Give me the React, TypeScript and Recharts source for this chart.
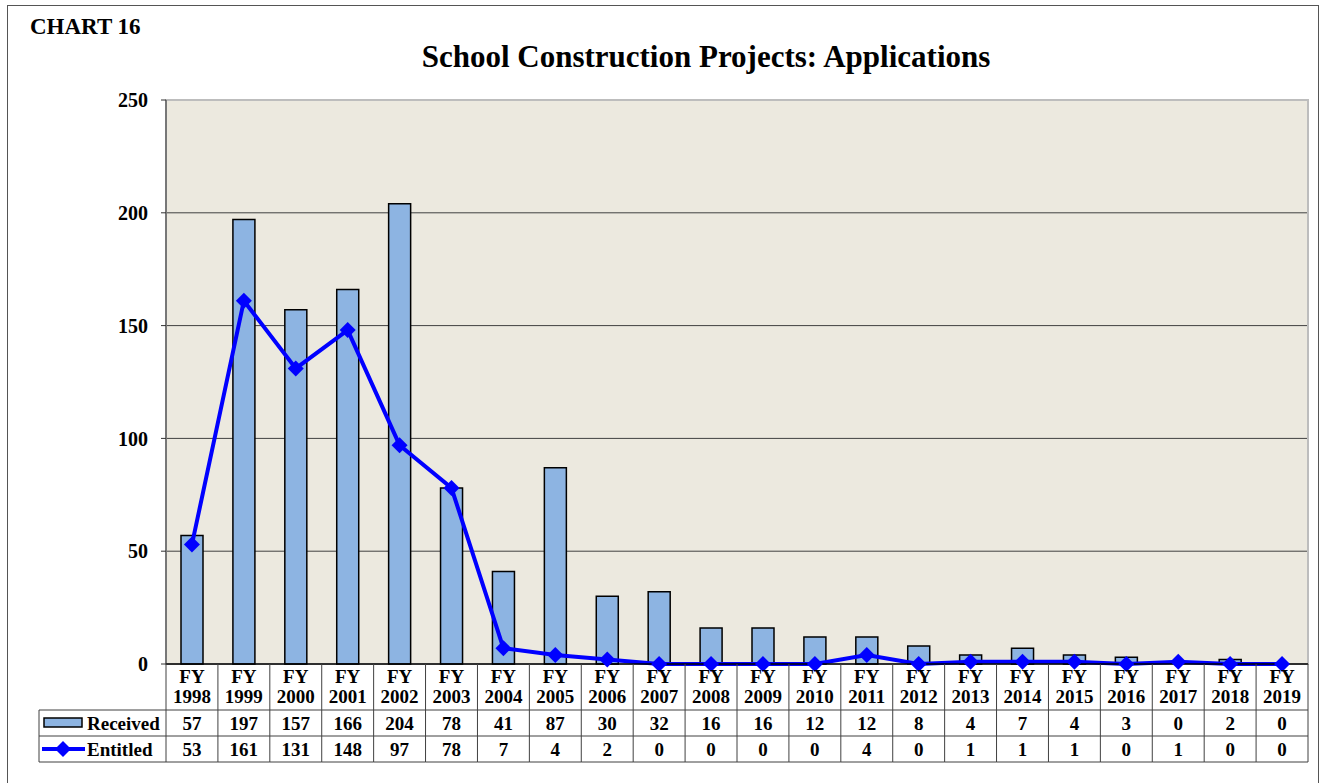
import React from 'react';
import {
  ComposedChart, Bar, Line, XAxis, YAxis, CartesianGrid, ReferenceArea,
} from 'recharts';

const years = [
  '1998', '1999', '2000', '2001', '2002', '2003', '2004', '2005', '2006', '2007', '2008',
  '2009', '2010', '2011', '2012', '2013', '2014', '2015', '2016', '2017', '2018', '2019',
];
const received = [57, 197, 157, 166, 204, 78, 41, 87, 30, 32, 16, 16, 12, 12, 8, 4, 7, 4, 3, 0, 2, 0];
const entitled = [53, 161, 131, 148, 97, 78, 7, 4, 2, 0, 0, 0, 0, 4, 0, 1, 1, 1, 0, 1, 0, 0];
const yTicks = [0, 50, 100, 150, 200, 250];

const data = years.map((y, i) => ({ year: y, received: received[i], entitled: entitled[i] }));

const FONT = '"Liberation Serif", "Times New Roman", serif';
const BAR_FILL = '#8DB4E2';
const LINE_BLUE = '#0000FF';
const GRID = '#404040';

// table geometry below the axis
const HEADER_H = 46;
const ROW_H = 26;
const LEGEND_W = 127;

const Diamond = (props: any) => {
  const { cx, cy } = props;
  if (cx == null || cy == null) return null;
  const r = 8;
  return (
    <polygon
      points={`${cx},${cy - r} ${cx + r},${cy} ${cx},${cy + r} ${cx - r},${cy}`}
      fill={LINE_BLUE}
    />
  );
};

// each x tick draws one column of the data table
const TableTick = (props: any) => {
  const { x, y, index, width, visibleTicksCount } = props;
  const colW = width / visibleTicksCount;
  const left = x - colW / 2;
  const right = x + colW / 2;
  const d = data[index];
  const txt = { fontFamily: FONT, fontWeight: 700, fontSize: 19, fill: '#000', textAnchor: 'middle' as const };
  const r1 = y + HEADER_H;
  const r2 = r1 + ROW_H;
  const r3 = r2 + ROW_H;
  return (
    <g>
      {index === 0 && (
        <g>
          <line x1={left} y1={y} x2={left} y2={r3} stroke={GRID} strokeWidth={1} />
          <line x1={left - LEGEND_W} y1={r1} x2={left} y2={r1} stroke={GRID} />
          <line x1={left - LEGEND_W} y1={r2} x2={left} y2={r2} stroke={GRID} />
          <line x1={left - LEGEND_W} y1={r3} x2={left} y2={r3} stroke={GRID} />
          <line x1={left - LEGEND_W} y1={r1} x2={left - LEGEND_W} y2={r3} stroke={GRID} />
          <rect x={left - LEGEND_W + 5} y={r1 + 8} width={38} height={9} fill={BAR_FILL} stroke="#000" strokeWidth={1.5} />
          <text x={left - LEGEND_W + 48} y={r1 + 20} {...txt} textAnchor="start">Received</text>
          <line x1={left - LEGEND_W + 3} y1={r2 + 13} x2={left - LEGEND_W + 46} y2={r2 + 13} stroke={LINE_BLUE} strokeWidth={4} />
          <Diamond cx={left - LEGEND_W + 24} cy={r2 + 13} />
          <text x={left - LEGEND_W + 48} y={r2 + 20} {...txt} textAnchor="start">Entitled</text>
        </g>
      )}
      <line x1={right} y1={y} x2={right} y2={r3} stroke={GRID} strokeWidth={1} />
      <line x1={left} y1={r1} x2={right} y2={r1} stroke={GRID} />
      <line x1={left} y1={r2} x2={right} y2={r2} stroke={GRID} />
      <line x1={left} y1={r3} x2={right} y2={r3} stroke={GRID} />
      <text x={x} y={y + 19} {...txt}>FY</text>
      <text x={x} y={y + 39} {...txt}>{d.year}</text>
      <text x={x} y={r1 + 20} {...txt}>{d.received}</text>
      <text x={x} y={r2 + 20} {...txt}>{d.entitled}</text>
    </g>
  );
};

export default function App() {
  return (
    <div style={{ position: 'absolute', left: 0, top: 0, width: 1323, height: 783, background: '#fff', overflow: 'hidden' }}>
      <div
        style={{
          position: 'absolute', left: 7, top: 5, width: 1312, height: 790,
          border: '1px solid #555', boxSizing: 'border-box',
        }}
      />
      <div style={{ position: 'absolute', left: 30, top: 14, fontFamily: FONT, fontWeight: 700, fontSize: 23, lineHeight: '26px' }}>
        CHART 16
      </div>
      <div
        style={{
          position: 'absolute', left: 206, width: 1000, top: 39, textAlign: 'center',
          fontFamily: FONT, fontWeight: 700, fontSize: 31, lineHeight: '36px',
        }}
      >
        School Construction Projects: Applications
      </div>
      <div style={{ position: 'absolute', left: 0, top: 0 }}>
        <ComposedChart
          width={1323}
          height={783}
          data={data}
          margin={{ top: 100, right: 15, left: 106, bottom: 21 }}
          barSize={22}
        >
          <CartesianGrid vertical={false} stroke={GRID} fill="#ECE9DF" fillOpacity={1} />
          <ReferenceArea y1={0} y2={250} fill="none" stroke="#BDBDBD" strokeWidth={2} ifOverflow="visible" />
          <XAxis
            dataKey="year"
            interval={0}
            height={98}
            tickSize={0}
            tickMargin={0}
            tickLine={false}
            axisLine={{ stroke: '#000', strokeWidth: 1.5 }}
            tick={<TableTick />}
          />
          <YAxis
            width={60}
            domain={[0, 250]}
            ticks={yTicks}
            interval={0}
            tickSize={5}
            tickMargin={13}
            axisLine={{ stroke: '#333' }}
            tickLine={{ stroke: '#333' }}
            tick={{ fontFamily: FONT, fontWeight: 700, fontSize: 20, fill: '#000' }}
          />
          <Bar dataKey="received" fill={BAR_FILL} stroke="#000" strokeWidth={1.5} isAnimationActive={false} />
          <Line
            dataKey="entitled"
            stroke={LINE_BLUE}
            strokeWidth={4}
            dot={<Diamond />}
            activeDot={false}
            isAnimationActive={false}
          />
        </ComposedChart>
      </div>
    </div>
  );
}
